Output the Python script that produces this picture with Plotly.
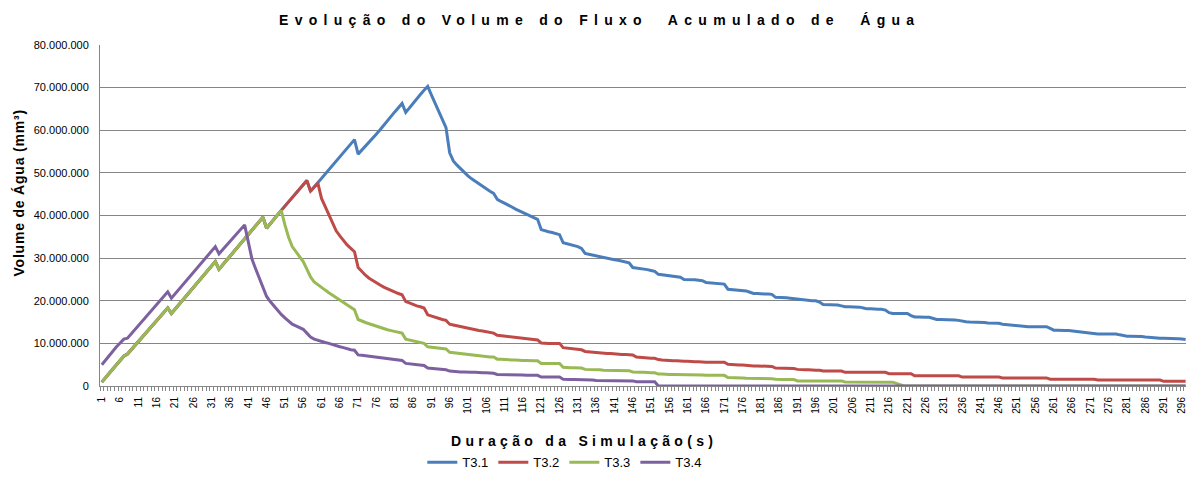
import plotly.graph_objects as go

# Categories (simulation time, s)
categories = list(range(1, 298))

# Values in millions of mm3
t31 = [
    0.9, 2.0, 3.0, 4.0, 5.0, 6.0, 7.0, 7.5, 8.5, 9.5,
    10.4, 11.4, 12.4, 13.4, 14.4, 15.4, 16.4, 17.3, 18.3, 17.0,
    18.0, 19.0, 20.0, 21.1, 22.1, 23.1, 24.1, 25.1, 26.1, 27.2,
    28.2, 29.2, 27.4, 28.4, 29.4, 30.4, 31.4, 32.4, 33.5, 34.5,
    35.5, 36.5, 37.6, 38.6, 39.6, 37.0, 38.1, 39.1, 40.2, 41.2,
    42.2, 43.2, 44.2, 45.2, 46.2, 47.2, 48.2, 45.7, 46.7, 47.6,
    48.7, 49.8, 50.8, 51.8, 52.8, 53.8, 54.8, 55.8, 56.8, 57.8,
    54.4, 55.3, 56.2, 57.1, 58.0, 59.1, 60.1, 61.2, 62.2, 63.3,
    64.3, 65.3, 66.3, 64.2, 65.3, 66.3, 67.4, 68.4, 69.4, 70.3,
    68.3, 66.4, 64.5, 62.5, 60.6, 54.7, 52.8, 51.8, 50.9, 50.1,
    49.3, 48.6, 48.0, 47.3, 46.7, 46.2, 45.7, 45.2, 43.8, 43.3,
    42.9, 42.4, 42.0, 41.5, 41.1, 40.7, 40.3, 39.9, 39.6, 39.1,
    36.7, 36.4, 36.2, 36.0, 35.8, 35.5, 33.6, 33.4, 33.2, 33.0,
    32.7, 32.3, 31.1, 30.9, 30.7, 30.5, 30.4, 30.2, 30.0, 29.8,
    29.6, 29.5, 29.3, 29.1, 28.9, 27.8, 27.7, 27.5, 27.4, 27.3,
    27.1, 26.9, 26.2, 26.1, 26.0, 25.8, 25.7, 25.6, 25.5, 25.0,
    25.0, 24.9, 24.9, 24.8, 24.7, 24.3, 24.2, 24.2, 24.1, 24.0,
    23.9, 22.7, 22.6, 22.5, 22.4, 22.4, 22.3, 22.0, 21.7, 21.7,
    21.6, 21.6, 21.6, 21.5, 20.8, 20.8, 20.7, 20.7, 20.6, 20.5,
    20.3, 20.2, 20.1, 20.1, 20.0, 20.0, 19.7, 19.1, 19.1, 19.0,
    19.0, 19.0, 18.8, 18.6, 18.6, 18.6, 18.6, 18.5, 18.3, 18.1,
    18.1, 18.0, 18.0, 18.0, 17.8, 17.2, 17.0, 17.0, 17.0, 17.0,
    17.0, 16.5, 16.2, 16.2, 16.1, 16.1, 16.1, 15.9, 15.6, 15.6,
    15.6, 15.5, 15.5, 15.5, 15.4, 15.2, 15.1, 15.0, 15.0, 15.0,
    15.0, 14.9, 14.8, 14.8, 14.7, 14.7, 14.5, 14.4, 14.3, 14.2,
    14.1, 14.0, 13.9, 13.9, 13.9, 13.9, 13.9, 13.9, 13.9, 13.5,
    13.1, 13.1, 13.0, 13.0, 13.0, 12.9, 12.8, 12.7, 12.5, 12.4,
    12.3, 12.3, 12.2, 12.2, 12.2, 12.2, 12.2, 12.2, 12.0, 11.8,
    11.7, 11.7, 11.7, 11.7, 11.6, 11.5, 11.4, 11.3, 11.3, 11.2,
    11.2, 11.2, 11.2, 11.2, 11.1, 11.0, 10.9,
]

t32 = [
    0.9, 2.0, 3.0, 4.0, 5.0, 6.0, 7.0, 7.5, 8.5, 9.5,
    10.4, 11.4, 12.4, 13.4, 14.4, 15.4, 16.4, 17.3, 18.3, 17.0,
    18.0, 19.0, 20.0, 21.1, 22.1, 23.1, 24.1, 25.1, 26.1, 27.2,
    28.2, 29.2, 27.4, 28.4, 29.4, 30.4, 31.4, 32.4, 33.5, 34.5,
    35.5, 36.5, 37.6, 38.6, 39.6, 37.0, 38.1, 39.1, 40.2, 41.2,
    42.2, 43.2, 44.2, 45.2, 46.2, 47.2, 48.2, 45.7, 46.7, 47.6,
    44.0, 42.0, 40.2, 38.0, 36.4, 35.2, 34.1, 33.1, 32.3, 31.5,
    27.8, 26.8, 26.0, 25.3, 24.7, 24.2, 23.7, 23.2, 22.8, 22.4,
    22.0, 21.7, 21.4, 19.8, 19.5, 19.1, 18.8, 18.6, 18.3, 16.7,
    16.4, 16.1, 15.9, 15.6, 15.4, 14.5, 14.3, 14.1, 13.9, 13.7,
    13.6, 13.4, 13.2, 13.0, 12.9, 12.7, 12.5, 12.4, 11.9, 11.8,
    11.7, 11.6, 11.4, 11.3, 11.2, 11.1, 11.0, 10.9, 10.8, 10.8,
    10.1, 10.0, 10.0, 10.0, 10.0, 10.0, 9.0, 8.9, 8.8, 8.7,
    8.6, 8.5, 8.1, 8.0, 7.9, 7.8, 7.7, 7.7, 7.6, 7.6,
    7.5, 7.5, 7.4, 7.4, 7.3, 7.3, 6.8, 6.7, 6.6, 6.6,
    6.5, 6.5, 6.2, 6.1, 6.0, 6.0, 5.9, 5.9, 5.8, 5.8,
    5.8, 5.7, 5.7, 5.7, 5.6, 5.6, 5.6, 5.6, 5.6, 5.6,
    5.6, 5.1, 5.0, 5.0, 4.9, 4.9, 4.8, 4.8, 4.7, 4.7,
    4.7, 4.6, 4.6, 4.6, 4.2, 4.2, 4.2, 4.1, 4.1, 4.1,
    3.9, 3.8, 3.8, 3.8, 3.7, 3.7, 3.7, 3.5, 3.5, 3.5,
    3.5, 3.5, 3.5, 3.2, 3.2, 3.2, 3.2, 3.2, 3.2, 3.2,
    3.2, 3.2, 3.2, 3.2, 3.2, 2.9, 2.9, 2.9, 2.9, 2.9,
    2.9, 2.9, 2.4, 2.4, 2.4, 2.4, 2.4, 2.4, 2.4, 2.4,
    2.4, 2.4, 2.4, 2.4, 2.4, 2.1, 2.1, 2.1, 2.1, 2.1,
    2.1, 2.1, 2.1, 2.1, 2.1, 2.1, 1.9, 1.9, 1.9, 1.9,
    1.9, 1.9, 1.9, 1.9, 1.9, 1.9, 1.9, 1.9, 1.9, 1.6,
    1.6, 1.6, 1.6, 1.6, 1.6, 1.6, 1.6, 1.6, 1.6, 1.6,
    1.6, 1.6, 1.4, 1.4, 1.4, 1.4, 1.4, 1.4, 1.4, 1.4,
    1.4, 1.4, 1.4, 1.4, 1.4, 1.4, 1.4, 1.4, 1.4, 1.4,
    1.1, 1.1, 1.1, 1.1, 1.1, 1.1, 1.1,
]

t33 = [
    0.9, 2.0, 3.0, 4.0, 5.0, 6.0, 7.0, 7.5, 8.5, 9.5,
    10.4, 11.4, 12.4, 13.4, 14.4, 15.4, 16.4, 17.3, 18.3, 17.0,
    18.0, 19.0, 20.0, 21.1, 22.1, 23.1, 24.1, 25.1, 26.1, 27.2,
    28.2, 29.2, 27.4, 28.4, 29.4, 30.4, 31.4, 32.4, 33.5, 34.5,
    35.5, 36.5, 37.6, 38.6, 39.6, 37.0, 38.1, 39.1, 40.2, 41.2,
    37.8, 34.9, 32.7, 31.6, 30.5, 29.2, 27.4, 25.6, 24.4, 23.7,
    23.1, 22.5, 21.9, 21.3, 20.7, 20.2, 19.7, 19.1, 18.5, 17.9,
    15.6, 15.2, 14.9, 14.6, 14.3, 14.0, 13.7, 13.5, 13.2, 13.0,
    12.8, 12.6, 12.4, 11.0, 10.8, 10.6, 10.4, 10.2, 10.0, 9.2,
    9.1, 9.0, 8.9, 8.8, 8.7, 7.9, 7.8, 7.7, 7.5, 7.4,
    7.3, 7.2, 7.1, 7.0, 6.9, 6.9, 6.8, 6.8, 6.3, 6.3,
    6.2, 6.2, 6.1, 6.1, 6.0, 6.0, 6.0, 5.9, 5.9, 5.9,
    5.3, 5.3, 5.3, 5.3, 5.3, 5.3, 4.4, 4.3, 4.3, 4.3,
    4.2, 4.2, 3.9, 3.9, 3.8, 3.8, 3.8, 3.7, 3.7, 3.7,
    3.7, 3.6, 3.6, 3.6, 3.6, 3.3, 3.2, 3.2, 3.2, 3.1,
    3.1, 3.1, 2.8, 2.8, 2.7, 2.7, 2.7, 2.7, 2.7, 2.6,
    2.6, 2.6, 2.6, 2.6, 2.6, 2.5, 2.5, 2.5, 2.5, 2.5,
    2.5, 2.0, 2.0, 1.9, 1.9, 1.9, 1.8, 1.8, 1.8, 1.8,
    1.7, 1.7, 1.7, 1.7, 1.6, 1.5, 1.5, 1.5, 1.5, 1.5,
    1.2, 1.2, 1.2, 1.2, 1.2, 1.2, 1.2, 1.2, 1.2, 1.2,
    1.2, 1.2, 1.2, 0.95, 0.95, 0.95, 0.95, 0.9, 0.9, 0.9,
    0.9, 0.9, 0.9, 0.9, 0.9, 0.9, 0.9, 0.6, 0.3, 0.0,
    0, 0, 0, 0, 0, 0, 0, 0, 0, 0,
    0, 0, 0, 0, 0, 0, 0, 0, 0, 0,
    0, 0, 0, 0, 0, 0, 0, 0, 0, 0,
    0, 0, 0, 0, 0, 0, 0, 0, 0, 0,
    0, 0, 0, 0, 0, 0, 0, 0, 0, 0,
    0, 0, 0, 0, 0, 0, 0, 0, 0, 0,
    0, 0, 0, 0, 0, 0, 0, 0, 0, 0,
    0, 0, 0, 0, 0, 0, 0,
]

t34 = [
    5.0, 6.1, 7.2, 8.2, 9.2, 10.1, 11.0, 11.2, 12.2, 13.2,
    14.2, 15.2, 16.2, 17.2, 18.2, 19.2, 20.2, 21.1, 22.1, 20.6,
    21.6, 22.6, 23.6, 24.6, 25.6, 26.7, 27.7, 28.7, 29.7, 30.7,
    31.7, 32.7, 31.0, 32.0, 32.9, 33.9, 34.8, 35.8, 36.8, 37.8,
    33.8, 29.8, 27.5, 25.3, 23.0, 21.0, 19.8, 18.8, 17.7, 16.8,
    16.0, 15.2, 14.5, 14.1, 13.7, 13.3, 12.4, 11.5, 11.0, 10.7,
    10.5, 10.2, 10.0, 9.7, 9.4, 9.2, 9.0, 8.7, 8.5, 8.4,
    7.3, 7.2, 7.1, 7.0, 6.9, 6.8, 6.7, 6.5, 6.4, 6.3,
    6.2, 6.1, 6.0, 5.3, 5.2, 5.1, 5.0, 4.9, 4.8, 4.2,
    4.1, 4.0, 3.9, 3.9, 3.8, 3.5, 3.4, 3.4, 3.3, 3.3,
    3.2, 3.2, 3.2, 3.1, 3.1, 3.1, 3.0, 3.0, 2.7, 2.7,
    2.7, 2.6, 2.6, 2.6, 2.6, 2.6, 2.5, 2.5, 2.5, 2.5,
    2.1, 2.1, 2.1, 2.1, 2.1, 2.1, 1.6, 1.5, 1.5, 1.5,
    1.5, 1.5, 1.4, 1.4, 1.4, 1.3, 1.3, 1.3, 1.3, 1.3,
    1.3, 1.2, 1.2, 1.2, 1.2, 1.2, 1.0, 1.0, 1.0, 1.0,
    1.0, 1.0, 0, 0, 0, 0, 0, 0, 0, 0,
    0, 0, 0, 0, 0, 0, 0, 0, 0, 0,
    0, 0, 0, 0, 0, 0, 0, 0, 0, 0,
    0, 0, 0, 0, 0, 0, 0, 0, 0, 0,
    0, 0, 0, 0, 0, 0, 0, 0, 0, 0,
    0, 0, 0, 0, 0, 0, 0, 0, 0, 0,
    0, 0, 0, 0, 0, 0, 0, 0, 0, 0,
    0, 0, 0, 0, 0, 0, 0, 0, 0, 0,
    0, 0, 0, 0, 0, 0, 0, 0, 0, 0,
    0, 0, 0, 0, 0, 0, 0, 0, 0, 0,
    0, 0, 0, 0, 0, 0, 0, 0, 0, 0,
    0, 0, 0, 0, 0, 0, 0, 0, 0, 0,
    0, 0, 0, 0, 0, 0, 0, 0, 0, 0,
    0, 0, 0, 0, 0, 0, 0, 0, 0, 0,
    0, 0, 0, 0, 0, 0, 0,
]

series_names = ["T3.1", "T3.2", "T3.3", "T3.4"]
series_values = [t31, t32, t33, t34]
series_colors = ["#4A7EBB", "#BE4B48", "#98B954", "#7D60A0"]

x_tick_values = list(range(1, 297, 5))
x_tick_labels = [str(v) for v in x_tick_values]
y_tick_values = [0, 10e6, 20e6, 30e6, 40e6, 50e6, 60e6, 70e6, 80e6]
y_tick_labels = ["0", "10.000.000", "20.000.000", "30.000.000", "40.000.000",
                 "50.000.000", "60.000.000", "70.000.000", "80.000.000"]

title_text = "Evolução do Volume do Fluxo  Acumulado de  Água"
x_title = "Duração da Simulação(s)"
y_title = "Volume de Água (mm³)"

GRID = "#868686"
FONT = "Liberation Sans"

fig = go.Figure()
for name, vals, col in zip(series_names, series_values, series_colors):
    fig.add_trace(go.Scatter(
        x=categories, y=[v * 1e6 for v in vals], name=name, mode="lines",
        line=dict(color=col, width=3), hoverinfo="skip",
    ))

fig.update_layout(
    width=1186, height=480,
    margin=dict(l=100, r=0, t=45, b=94),
    paper_bgcolor="white", plot_bgcolor="white",
    font=dict(family=FONT, color="#000000"),
    showlegend=True,
    legend=dict(
        orientation="h", x=0.428, xanchor="center", y=-0.224, yanchor="middle",
        font=dict(family=FONT, size=13, color="#000000"),
        itemwidth=30, tracegroupgap=0, bgcolor="rgba(0,0,0,0)",
    ),
    xaxis=dict(
        range=[0.5, 297.1], tickmode="array", tickvals=x_tick_values,
        ticktext=x_tick_labels, tickangle=-90, ticklabeloverflow="allow",
        tickfont=dict(family=FONT, size=10, color="#000000"),
        ticks="outside", ticklen=6, tickcolor="rgba(0,0,0,0)",
        showgrid=False, zeroline=False,
        showline=True, linecolor=GRID, linewidth=1,
        minor=dict(ticks="outside", ticklen=4, tickcolor=GRID, tickwidth=1,
                   tick0=0.5, dtick=1, showgrid=False),
    ),
    yaxis=dict(
        range=[0, 80e6], tickmode="array", tickvals=y_tick_values,
        ticktext=y_tick_labels,
        tickfont=dict(family=FONT, size=11, color="#000000"),
        ticks="outside", ticklen=8, tickcolor="rgba(0,0,0,0)",
        showgrid=False, zeroline=False,
        showline=True, linecolor=GRID, linewidth=1,
        minor=dict(tickmode="array", tickvals=y_tick_values[1:-1],
                   showgrid=True, gridcolor=GRID, gridwidth=1, ticks=""),
    ),
    annotations=[
        dict(text="<b><span style='letter-spacing:6.3px'>" + title_text + "</span></b>",
             xref="paper", yref="paper", x=0.4604, y=1.0734,
             xanchor="center", yanchor="middle", showarrow=False,
             font=dict(family=FONT, size=14, color="#000000")),
        dict(text="<b><span style='letter-spacing:4.3px'>" + x_title + "</span></b>",
             xref="paper", yref="paper", x=0.446, y=-0.162,
             xanchor="center", yanchor="middle", showarrow=False,
             font=dict(family=FONT, size=14, color="#000000")),
        dict(text="<b><span style='letter-spacing:0.8px'>" + y_title + "</span></b>",
             xref="paper", yref="paper", x=-0.075, y=0.566, textangle=-90,
             xanchor="center", yanchor="middle", showarrow=False,
             font=dict(family=FONT, size=14, color="#000000")),
    ],
)

fig.write_html("out.html", config={"displayModeBar": False},
               post_script="document.body.style.margin='0px';")
